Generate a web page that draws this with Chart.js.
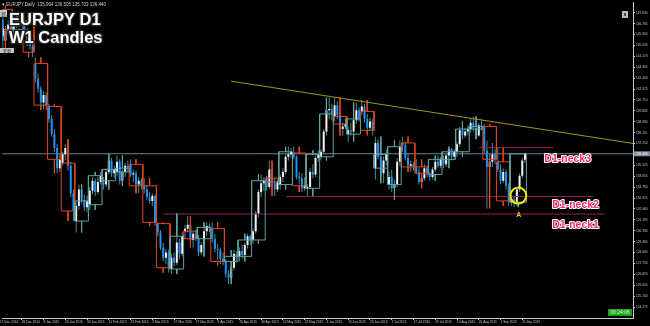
<!doctype html>
<html lang="en">
  <head>
    <meta charset="utf-8" />
    <title>EURJPY D1 / W1 Candles</title>
    <script src="https://cdn.jsdelivr.net/npm/chart.js/dist/chart.umd.min.js"></script>
    <style>
      html, body { margin: 0; padding: 0; background: #000; }
      #wrap { width: 650px; height: 326px; }
    </style>
  </head>
  <body>
    <div id="wrap"><canvas id="myChart" width="650" height="326"></canvas></div>
    <script>
      // daily candles, 15 Dec 2014 .. 14 Sep 2015
      const dOpen = [
        147.9,147.1,145.4,146.2,146.7,146.3,146.7,146.9,146.8,147.0,
        146.2,145.2,145.0,143.6,142.4,141.6,140.5,141.1,140.2,139.2,
        138.0,136.9,135.3,135.7,136.4,136.9,135.5,133.3,131.1,132.3,
        133.6,132.8,132.2,132.4,133.5,134.3,133.4,134.2,134.3,134.0,
        135.0,135.9,134.9,135.0,135.8,134.3,135.0,135.5,135.6,134.8,
        134.9,134.0,134.3,133.9,133.6,133.0,132.7,133.1,130.9,130.2,
        129.0,128.2,128.6,127.3,128.2,127.8,129.4,128.5,130.3,130.5,
        130.8,129.6,130.1,129.7,128.6,129.2,130.3,130.7,130.5,129.7,
        128.9,128.8,128.1,127.9,126.9,126.6,127.4,128.5,128.3,128.7,
        128.4,129.2,129.9,129.6,130.3,131.7,133.4,134.1,134.5,133.8,
        135.2,134.1,133.6,134.0,134.6,135.0,136.2,136.4,136.5,136.2,
        134.6,134.5,133.7,133.7,133.8,135.0,134.8,136.1,136.2,136.6,
        138.2,139.9,140.0,139.4,140.3,139.5,138.4,138.6,138.0,138.3,
        138.2,139.1,139.9,139.8,140.2,139.2,138.5,139.0,135.3,137.3,
        136.2,134.9,135.9,134.0,134.6,133.7,134.0,135.8,137.3,137.1,
        136.1,135.5,135.6,135.4,135.0,134.2,134.5,135.3,134.8,134.6,
        135.2,135.8,135.5,136.0,135.6,136.3,136.8,136.2,136.6,137.2,
        138.3,137.9,138.2,138.4,138.9,138.5,137.9,138.7,138.6,136.7,
        135.4,135.8,136.4,135.8,135.2,134.3,135.0,133.9,132.6,132.8,
        132.5,133.6,134.7,135.96
      ];
      const dHigh = [
        148.2,147.4,146.6,147.0,147.1,146.9,147.4,147.2,147.2,147.3,
        146.4,145.6,145.3,144.1,142.8,141.8,141.4,141.3,140.4,139.5,
        138.4,137.2,136.4,136.6,137.2,137.6,135.8,133.6,132.6,134.0,
        133.9,133.2,133.1,133.8,134.6,134.5,134.6,135.0,134.6,135.3,
        136.4,136.1,135.5,136.3,136.0,135.2,135.7,135.9,136.0,135.2,
        135.1,134.6,134.5,134.5,133.9,133.4,133.3,133.2,131.0,130.4,
        129.4,128.9,128.8,128.5,128.6,131.7,129.7,130.2,130.8,131.5,
        131.0,130.3,130.4,130.0,129.4,130.6,131.0,130.9,131.0,130.1,
        129.3,129.0,128.6,128.1,127.2,127.6,128.8,128.7,129.0,129.2,
        129.4,130.1,130.0,130.5,131.9,133.6,134.8,134.6,134.7,135.9,
        135.6,134.5,134.4,134.8,135.3,136.4,137.0,136.9,137.0,136.3,
        135.0,134.9,134.6,134.0,135.3,135.6,136.3,136.7,136.8,138.4,
        140.3,140.9,140.4,140.9,140.6,139.8,138.9,139.3,138.6,138.9,
        139.4,140.5,140.1,140.7,140.4,139.6,139.3,139.2,137.8,137.6,
        136.4,136.2,136.8,135.0,135.2,134.4,136.1,137.5,137.8,137.4,
        136.5,135.9,135.8,136.0,135.3,134.6,135.6,135.5,135.0,135.4,
        136.0,136.3,136.2,136.3,136.5,137.0,136.9,136.8,137.4,138.6,
        139.0,138.5,138.7,139.2,139.4,138.7,138.9,139.2,138.8,137.5,
        136.4,137.3,136.8,136.9,135.6,135.3,135.2,134.1,133.2,133.1,
        133.8,134.9,136.1,136.5
      ];
      const dLow = [
        146.8,144.8,145.0,145.9,146.0,145.9,146.4,146.5,146.6,146.0,
        145.0,144.7,144.1,142.1,141.3,140.2,140.0,139.9,138.9,137.8,
        136.6,134.9,135.0,135.5,135.9,135.1,133.0,131.1,130.2,132.0,
        132.5,131.9,131.8,132.0,133.2,133.1,133.2,134.0,133.6,133.8,
        134.8,134.6,134.5,134.7,134.0,133.9,134.6,135.0,134.6,134.2,
        133.8,133.3,133.6,133.3,132.8,132.5,132.3,130.7,129.9,128.8,
        127.9,127.7,127.0,126.9,127.5,127.6,128.1,128.3,129.7,130.2,
        129.4,129.0,129.5,128.3,128.4,129.0,129.9,130.2,129.4,128.6,
        128.0,127.7,127.6,126.6,126.1,126.4,127.2,127.8,127.9,128.1,
        128.2,128.9,129.2,129.3,130.1,131.4,133.0,133.5,133.5,133.6,
        133.9,133.1,133.4,133.6,134.2,134.8,135.9,136.1,136.0,134.4,
        134.0,133.4,133.5,133.1,133.6,134.5,134.6,135.8,135.9,136.4,
        137.9,139.2,139.1,139.0,139.2,138.2,137.9,138.4,137.4,137.9,
        138.0,138.8,139.0,139.5,138.9,138.2,138.3,137.9,134.4,136.0,
        134.6,134.1,135.5,133.6,133.4,132.8,133.8,135.5,136.6,135.9,
        135.2,135.0,135.1,134.8,134.0,133.7,134.3,134.6,134.3,134.4,
        135.0,135.3,135.3,135.3,135.4,136.0,135.9,136.0,136.2,137.0,
        137.6,137.7,137.9,138.1,138.2,137.6,137.8,138.3,136.4,132.1,
        134.2,135.4,135.6,135.0,134.0,134.1,133.6,132.3,132.3,132.2,
        132.3,133.4,134.5,135.7
      ];
      const dClose = [
        147.1,145.4,146.2,146.7,146.3,146.7,146.9,146.8,147.0,146.2,
        145.2,145.0,144.5,142.4,141.6,140.5,141.1,140.3,139.2,138.0,
        136.9,135.3,136.0,136.4,136.9,135.5,133.3,131.9,132.3,133.6,
        132.8,132.2,132.7,133.5,134.3,133.4,134.2,134.7,134.0,135.0,
        135.9,134.9,135.2,135.8,134.3,135.0,135.5,135.3,134.8,134.9,
        134.0,134.3,133.9,133.6,133.0,132.7,133.1,131.0,130.2,129.0,
        128.2,128.6,127.4,128.2,127.8,129.4,128.5,129.9,130.5,130.8,
        129.6,130.1,129.7,128.6,129.2,130.3,130.7,130.6,129.7,128.9,
        128.8,128.1,127.9,126.9,126.6,127.4,128.5,128.3,128.7,128.4,
        129.2,129.9,129.6,130.3,131.7,133.4,134.1,134.3,133.8,135.2,
        134.1,133.6,134.2,134.6,135.0,136.2,136.4,136.6,136.2,134.6,
        134.5,133.7,133.9,133.8,135.0,134.8,136.1,136.4,136.6,138.2,
        139.9,140.0,139.6,140.3,139.5,138.4,138.6,138.8,138.3,138.2,
        139.1,139.9,139.2,140.2,139.2,138.5,139.0,138.3,137.3,136.2,
        134.9,135.9,136.4,134.6,133.7,134.0,135.8,137.0,137.1,136.1,
        135.5,135.6,135.4,135.0,134.2,134.5,135.3,134.9,134.6,135.2,
        135.8,135.5,136.0,135.6,136.3,136.8,136.2,136.6,137.2,138.3,
        137.9,138.2,138.4,138.9,138.5,137.9,138.7,138.6,136.7,135.4,
        135.8,136.4,136.0,135.2,134.3,135.0,133.9,132.7,132.8,132.5,
        133.6,134.7,135.9,136.44
      ];

      // bars per week (Christmas / New Year weeks are short)
      const weekSizes = [5, 4, 4, ...Array(35).fill(5), 6];

      // time axis: one label every 8 bars
      const xLabels = [
        "15 Dec 2014", "26 Dec 2014", "8 Jan 2015", "20 Jan 2015", "30 Jan 2015",
        "11 Feb 2015", "23 Feb 2015", "5 Mar 2015", "17 Mar 2015", "27 Mar 2015",
        "8 Apr 2015", "20 Apr 2015", "30 Apr 2015", "12 May 2015", "22 May 2015",
        "3 Jun 2015", "15 Jun 2015", "25 Jun 2015", "7 Jul 2015", "17 Jul 2015",
        "29 Jul 2015", "10 Aug 2015", "20 Aug 2015", "1 Sep 2015", "11 Sep 2015"
      ];
      const priceTicks = [
        124.275, 125.14, 126.005, 126.87, 127.735, 128.6, 129.465, 130.33,
        131.195, 132.06, 132.925, 133.79, 134.655, 135.52, 136.385, 137.25,
        138.115, 138.98, 139.845, 140.71, 141.575, 142.44, 143.305, 144.17,
        145.035, 145.9, 146.765, 147.63
      ];

      // drawn objects
      const neck1 = { price: 131.66, from: 60, to: 222.4 };
      const neck2 = { price: 133.05, from: 105.2, to: 218 };
      const neck3 = { price: 136.93, from: 176, to: 203.4 };
      const trendLine = [{ x: 85, y: 142.2 }, { x: 233, y: 137.25 }];
      const circleA = { x: 190.55, y: 133.12 };

      const X_MIN = 0.8, X_MAX = 232.7;
      const Y_MIN = 123.41, Y_MAX = 148.41;
      const lastClose = dClose[dClose.length - 1];

      // weekly candles built from the daily bars
      const weeks = [];
      let start = 0;
      weekSizes.forEach((n) => {
        const end = start + n - 1;
        weeks.push({
          s: start,
          e: end,
          o: dOpen[start],
          c: dClose[end],
          h: Math.max(...dHigh.slice(start, end + 1)),
          l: Math.min(...dLow.slice(start, end + 1)),
        });
        start += n;
      });

      function boxPath(list) {
        const pts = [];
        list.forEach((w) => {
          const x0 = w.s - 0.5, x1 = w.e + 0.5, xm = (w.s + w.e) / 2;
          const top = Math.max(w.o, w.c), bot = Math.min(w.o, w.c);
          pts.push({ x: x0, y: w.o }, { x: x1, y: w.o }, { x: x1, y: w.c }, { x: x0, y: w.c }, { x: x0, y: w.o }, { x: x0, y: null });
          pts.push({ x: xm, y: w.h }, { x: xm, y: top }, { x: xm, y: null });
          pts.push({ x: xm, y: bot }, { x: xm, y: w.l }, { x: xm, y: null });
        });
        return pts;
      }

      const hLine = (o) => [{ x: o.from, y: o.price }, { x: o.to, y: o.price }];
      const lineDs = (data, color, order) => ({
        type: "line", data, borderColor: color, borderWidth: 1,
        pointRadius: 0, tension: 0, spanGaps: false, order,
      });

      const WICK = "#4b8c8c", BULL = "#f2f2f2", BEAR = "#1e90ff";

      const data = {
        datasets: [
          lineDs(boxPath(weeks.filter((w) => w.c >= w.o)), "#5fa3a3", 2),
          lineDs(boxPath(weeks.filter((w) => w.c < w.o)), "#e2461c", 2),
          lineDs(trendLine, "#9a9a1e", 1),
          lineDs(hLine(neck1), "#8a2458", 3),
          lineDs(hLine(neck2), "#8a2458", 3),
          lineDs(hLine(neck3), "#8a2458", 3),
          lineDs([{ x: X_MIN, y: lastClose }, { x: X_MAX, y: lastClose }], "#6f8290", 6),
          {
            type: "line", data: [circleA], showLine: false,
            pointRadius: 8, pointStyle: "circle", pointBorderWidth: 2,
            pointBorderColor: "#f2e600", pointBackgroundColor: "rgba(0,0,0,0)", order: 0,
          },
          {
            type: "bar",
            data: dOpen.map((o, i) => ({ x: i, y: [o, dClose[i]] })),
            backgroundColor: dOpen.map((o, i) => (dClose[i] >= o ? BULL : BEAR)),
            barThickness: 2, minBarLength: 1, grouped: false, inflateAmount: 0, order: 4,
          },
          {
            type: "bar",
            data: dLow.map((l, i) => ({ x: i, y: [l, dHigh[i]] })),
            backgroundColor: WICK,
            barThickness: 1, grouped: false, inflateAmount: 0, order: 5,
          },
        ],
      };

      const background = {
        id: "background",
        beforeDraw(chart) {
          const { ctx, width, height } = chart;
          ctx.save();
          ctx.fillStyle = "#000";
          ctx.fillRect(0, 0, width, height);
          ctx.restore();
        },
      };

      function outlined(ctx, text, x, y, font, fill, stroke, lw) {
        ctx.font = font;
        ctx.lineJoin = "round";
        ctx.lineWidth = lw;
        ctx.strokeStyle = stroke;
        ctx.strokeText(text, x, y);
        ctx.fillStyle = fill;
        ctx.fillText(text, x, y);
      }

      const labels = {
        id: "labels",
        afterDraw(chart) {
          const { ctx, scales: { x, y } } = chart;
          ctx.save();
          ctx.textBaseline = "alphabetic";

          // header line
          ctx.font = "4.5px Arial";
          ctx.fillStyle = "#d0d0d0";
          ctx.fillText("\u25BE EURJPY,Daily  135.964 136.505 135.703 136.440", 2, 6);

          // small terminal buttons
          ctx.fillStyle = "#c4c4c4";
          ctx.fillRect(0, 10, 7, 7);
          ctx.fillRect(0, 48, 14, 5);
          ctx.fillStyle = "#333";
          ctx.font = "5px 'Noto Sans CJK JP'";
          ctx.fillText("\u8CB7", 1, 16);
          ctx.font = "4px 'Noto Sans CJK JP'";
          ctx.fillText("\u5909\u66F4", 3, 52.5);
          ctx.fillStyle = "#ddd";
          ctx.fillRect(3, 28, 1, 8);
          ctx.fillStyle = "#b8b8b8";
          ctx.fillRect(622, 11, 6, 7);
          ctx.fillStyle = "#555";
          ctx.fillRect(624, 13, 2, 3);

          // title
          outlined(ctx, "EURJPY D1", 9, 25, "bold 16.5px Arial", "#fff", "#222", 3);
          outlined(ctx, "W1 Candles", 9, 43, "bold 16.5px Arial", "#fff", "#222", 3);

          // neckline labels
          const f = "bold 10.5px Arial";
          outlined(ctx, "D1-neck3", x.getPixelForValue(200.1), y.getPixelForValue(135.75), f, "#ff2a6c", "#fff", 2);
          outlined(ctx, "D1-neck2", x.getPixelForValue(203), y.getPixelForValue(132.14), f, "#ff2a6c", "#fff", 2);
          outlined(ctx, "D1-neck1", x.getPixelForValue(203), y.getPixelForValue(130.56), f, "#ff2a6c", "#fff", 2);

          ctx.textAlign = "center";
          ctx.textBaseline = "middle";
          ctx.font = "bold 7px Arial";
          ctx.fillStyle = "#f5c518";
          ctx.fillText("A", x.getPixelForValue(190.7), y.getPixelForValue(131.59));

          // bid price tag on the axis
          const py = y.getPixelForValue(lastClose);
          ctx.fillStyle = "#7d8d9c";
          ctx.fillRect(634, py - 2.5, 16, 5);
          ctx.fillStyle = "#fff";
          ctx.textAlign = "left";
          ctx.font = "3.2px Arial";
          ctx.fillText(lastClose.toFixed(3), 636, py);

          // countdown clock
          ctx.fillStyle = "#17a317";
          ctx.fillRect(608, 309, 24, 7);
          ctx.fillStyle = "#e8ffe8";
          ctx.font = "5px Arial";
          ctx.textAlign = "center";
          ctx.fillText("00:24:06", 620, 312.7);
          ctx.restore();
        },
      };

      const config = {
        type: "bar",
        data,
        options: {
          responsive: false,
          animation: false,
          devicePixelRatio: 1,
          events: [],
          layout: { padding: 0, autoPadding: false },
          plugins: { legend: { display: false }, tooltip: { enabled: false } },
          scales: {
            x: {
              type: "linear",
              min: X_MIN,
              max: X_MAX,
              offset: false,
              afterFit(s) { s.height = 8; },
              afterBuildTicks(s) { s.ticks = xLabels.map((t, k) => ({ value: k * 8 })); },
              ticks: {
                autoSkip: false, maxRotation: 0, align: "start", padding: 0,
                color: "#c8c8c8", font: { size: 3.2, family: "Arial" },
                callback: (v, i) => xLabels[i],
              },
              grid: { drawOnChartArea: false, offset: false, tickLength: 2, color: "#c8c8c8" },
              border: { color: "#c8c8c8" },
            },
            y: {
              position: "right",
              min: Y_MIN,
              max: Y_MAX,
              afterFit(s) { s.width = 17; },
              afterBuildTicks(s) { s.ticks = priceTicks.map((v) => ({ value: v })); },
              ticks: {
                padding: 1, color: "#c8c8c8", font: { size: 3.2, family: "Arial" },
                callback: (v) => v.toFixed(3),
              },
              grid: { drawOnChartArea: false, tickLength: 2, color: "#c8c8c8" },
              border: { color: "#c8c8c8" },
            },
          },
        },
        plugins: [background, labels],
      };

      const myChart = new Chart(document.getElementById("myChart"), config);
    </script>
  </body>
</html>
